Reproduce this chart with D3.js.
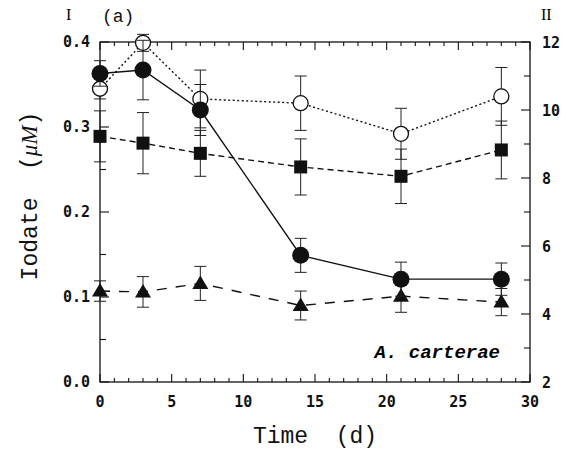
<!DOCTYPE html>
<html>
<head>
<meta charset="utf-8">
<script src="https://cdn.jsdelivr.net/npm/d3@7"></script>
<style>
  body { margin: 0; background: #fff; }
  svg { display: block; }
  .tick-label { font-family: "DejaVu Sans Mono", monospace; font-weight: bold; font-size: 15px; fill: #111; }
  .title { font-family: "Liberation Mono", "Courier New", monospace; font-size: 23px; fill: #111; }
</style>
</head>
<body>
<div id="chart"></div>
<script>
// sampling days
const days = [0, 3, 7, 14, 21, 28];

const filledCircle = [0.363, 0.367, 0.320, 0.149, 0.121, 0.121];
const filledCircleErr = [0.015, 0.035, 0.030, 0.020, 0.020, 0.019];
const openCircle = [0.345, 0.399, 0.333, 0.328, 0.292, 0.336];
const openCircleErr = [0.012, 0.010, 0.034, 0.032, 0.030, 0.034];
const filledSquare = [0.289, 0.281, 0.269, 0.253, 0.242, 0.273];
const filledSquareErr = [0.030, 0.036, 0.027, 0.033, 0.032, 0.034];
const triangle = [0.107, 0.106, 0.116, 0.090, 0.101, 0.094];
const triangleErr = [0.012, 0.018, 0.020, 0.017, 0.019, 0.016];

const xTicks = [0, 5, 10, 15, 20, 25, 30];
const leftTicks = [0.0, 0.1, 0.2, 0.3, 0.4];
const rightTicks = [2, 4, 6, 8, 10, 12];

const W = 574, H = 458;
const margin = {left: 100, right: 44, top: 42, bottom: 76};

const svg = d3.select('#chart').append('svg')
    .attr('width', W).attr('height', H);

const x = d3.scaleLinear().domain([0, 30]).range([margin.left, W - margin.right]);
const y = d3.scaleLinear().domain([0, 0.4]).range([H - margin.bottom, margin.top]);
const y2 = d3.scaleLinear().domain([2, 12]).range([H - margin.bottom, margin.top]);

// frame
svg.append('rect')
    .attr('x', x(0)).attr('y', y(0.4))
    .attr('width', x(30) - x(0)).attr('height', y(0) - y(0.4))
    .attr('fill', 'none').attr('stroke', '#111').attr('stroke-width', 1.3);

// ticks (all pointing inward)
const tickG = svg.append('g').attr('stroke', '#111').attr('stroke-width', 1.1);
d3.range(0, 31, 1).forEach((t) => {
    const len = t % 5 === 0 ? 8 : 4;
    tickG.append('line').attr('x1', x(t)).attr('x2', x(t))
        .attr('y1', y(0)).attr('y2', y(0) - len);
    tickG.append('line').attr('x1', x(t)).attr('x2', x(t))
        .attr('y1', y(0.4)).attr('y2', y(0.4) + len);
});
d3.range(0, 0.401, 0.05).forEach((v, i) => {
    const len = i % 2 === 0 ? 9 : 6;
    tickG.append('line').attr('x1', x(0)).attr('x2', x(0) + len)
        .attr('y1', y(v)).attr('y2', y(v));
});
d3.range(2, 12.01, 1).forEach((v, i) => {
    const len = i % 2 === 0 ? 9 : 6;
    tickG.append('line').attr('x1', x(30)).attr('x2', x(30) - len)
        .attr('y1', y2(v)).attr('y2', y2(v));
});

// tick labels
svg.selectAll('.xl').data(xTicks).join('text')
    .attr('class', 'tick-label')
    .attr('x', (d) => x(d)).attr('y', y(0) + 25)
    .attr('text-anchor', 'middle')
    .text((d) => d);
svg.selectAll('.yl').data(leftTicks).join('text')
    .attr('class', 'tick-label')
    .attr('x', x(0) - 10).attr('y', (d) => y(d) + 5)
    .attr('text-anchor', 'end')
    .text((d) => d.toFixed(1));
svg.selectAll('.y2l').data(rightTicks).join('text')
    .attr('class', 'tick-label')
    .attr('x', x(30) + 12).attr('y', (d) => y2(d) + 6)
    .text((d) => d);

// axis titles
svg.append('text').attr('class', 'title')
    .attr('x', (x(0) + x(30)) / 2).attr('y', 443)
    .attr('text-anchor', 'middle')
    .attr('xml:space', 'preserve')
    .text('Time  (d)');

const yt = svg.append('text').attr('class', 'title')
    .attr('transform', 'translate(37,196) rotate(-90)')
    .attr('text-anchor', 'middle')
    .attr('xml:space', 'preserve');
yt.append('tspan').text('Iodate  (');
yt.append('tspan').attr('font-style', 'italic').attr('font-family', 'Liberation Serif, serif').text('\u03bcM');
yt.append('tspan').text(')');

svg.append('text').attr('x', 66).attr('y', 20)
    .attr('font-family', 'Liberation Serif, serif').attr('font-size', 16).text('I');
svg.append('text').attr('x', 541).attr('y', 20)
    .attr('font-family', 'Liberation Serif, serif').attr('font-size', 16).text('II');
svg.append('text').attr('class', 'title').attr('x', 102).attr('y', 22)
    .style('font-size', '18px').text('(a)');

svg.append('text')
    .attr('x', 500).attr('y', 358)
    .attr('text-anchor', 'end')
    .attr('font-family', 'Liberation Mono, monospace')
    .attr('font-style', 'italic').attr('font-weight', 'bold')
    .attr('font-size', 19)
    .attr('xml:space', 'preserve')
    .text('A. carterae');

// series
const series = [
    {vals: openCircle, err: openCircleErr, dash: '2,2.5', marker: 'open'},
    {vals: filledSquare, err: filledSquareErr, dash: '6,4', marker: 'square'},
    {vals: triangle, err: triangleErr, dash: '10,9', marker: 'triangle'},
    {vals: filledCircle, err: filledCircleErr, dash: null, marker: 'circle'}
];

const line = d3.line().x((d) => x(d[0])).y((d) => y(d[1]));

series.forEach((s) => {
    const pts = days.map((t, i) => [t, s.vals[i], s.err[i]]);
    const g = svg.append('g');

    // error bars
    const eb = g.selectAll('.eb').data(pts).join('g').attr('stroke', '#222').attr('stroke-width', 1);
    eb.append('line')
        .attr('x1', (d) => x(d[0])).attr('x2', (d) => x(d[0]))
        .attr('y1', (d) => y(d[1] - d[2])).attr('y2', (d) => y(d[1] + d[2]));
    eb.append('line')
        .attr('x1', (d) => x(d[0]) - 6).attr('x2', (d) => x(d[0]) + 6)
        .attr('y1', (d) => y(d[1] - d[2])).attr('y2', (d) => y(d[1] - d[2]));
    eb.append('line')
        .attr('x1', (d) => x(d[0]) - 6).attr('x2', (d) => x(d[0]) + 6)
        .attr('y1', (d) => y(d[1] + d[2])).attr('y2', (d) => y(d[1] + d[2]));

    g.append('path').datum(pts)
        .attr('d', line)
        .attr('fill', 'none').attr('stroke', '#111').attr('stroke-width', 1.4)
        .attr('stroke-dasharray', s.dash);

    const m = g.selectAll('.m').data(pts).join('g')
        .attr('transform', (d) => `translate(${x(d[0])},${y(d[1])})`);
    if (s.marker === 'open') {
        m.append('circle').attr('r', 7.5).attr('fill', '#fff').attr('stroke', '#111').attr('stroke-width', 1.3);
    } else if (s.marker === 'circle') {
        m.append('circle').attr('r', 8.5).attr('fill', '#111');
    } else if (s.marker === 'square') {
        m.append('rect').attr('x', -6.5).attr('y', -6.5).attr('width', 13).attr('height', 13).attr('fill', '#111');
    } else {
        m.append('path').attr('d', 'M0,-8L8,5.5L-8,5.5Z').attr('fill', '#111');
    }
});
</script>
</body>
</html>
